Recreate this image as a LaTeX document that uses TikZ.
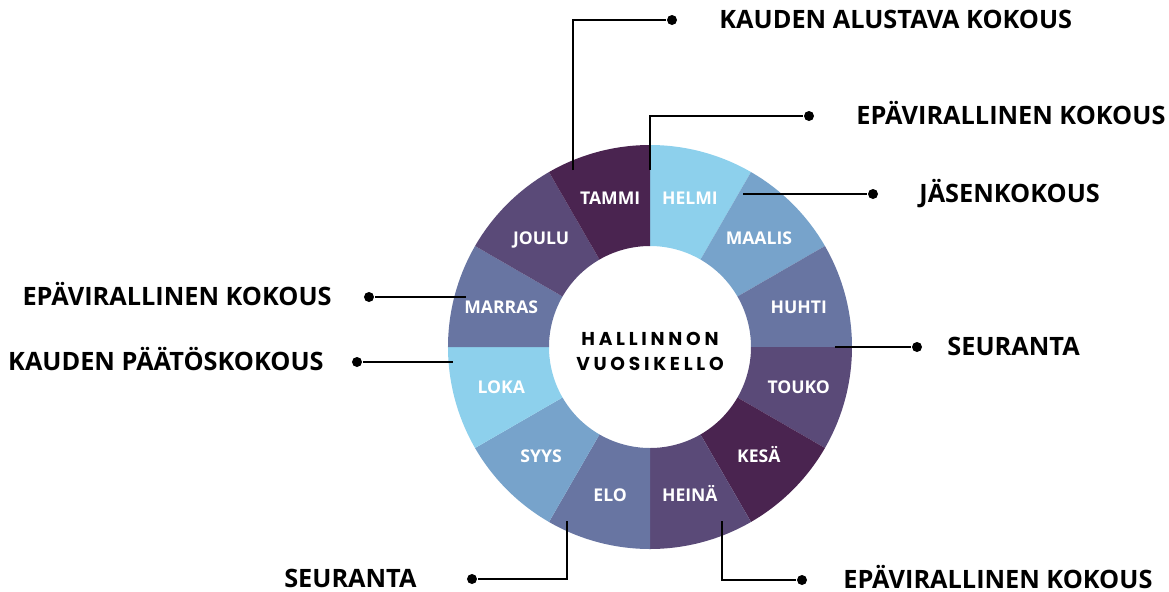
\documentclass[tikz,border=0pt]{standalone}
\usepackage{fontspec}
\setmainfont{Open Sans}
\newfontfamily\hubfont{Poppins}[LetterSpace=20]
\usetikzlibrary{positioning}

\definecolor{plum}{HTML}{4A2450}
\definecolor{sky}{HTML}{8DD0EC}
\definecolor{steel}{HTML}{77A3CB}
\definecolor{slate}{HTML}{6875A2}
\definecolor{dusk}{HTML}{5A4A78}

\tikzset{
  month/.style = {text=white, font=\bfseries\fontsize{5}{5}\selectfont,
                  text height=3.5pt, text depth=0pt},
  event/.style = {inner sep=0pt, font=\bfseries\fontsize{7.2}{8}\selectfont,
                  text height=5.1pt, text depth=0pt},
  dot/.style   = {circle, fill=black, inner sep=0pt, minimum size=1mm},
  link/.style  = {line width=0.7pt},
}

\begin{document}
\begin{tikzpicture}
  \useasboundingbox (-6.50,-2.44) rectangle (5.19,3.47);

  % the ring, one piece per month, clockwise from the top
  \foreach \name/\col [count=\i from 0] in {HELMI/sky, MAALIS/steel, HUHTI/slate,
      TOUKO/dusk, KESÄ/plum, HEINÄ/dusk, ELO/slate, SYYS/steel, LOKA/sky,
      MARRAS/slate, JOULU/dusk, TAMMI/plum} {
    \fill[\col] ({90-30*\i}:2.02) arc ({90-30*\i}:{60-30*\i}:2.02)
      -- ({60-30*\i}:1.01) arc ({60-30*\i}:{90-30*\i}:1.01) -- cycle;
    \node[month] at ({75-30*\i}:1.54) {\name};
  }
  \node[align=center, font=\hubfont\bfseries\fontsize{5.3}{7.1}\selectfont] (hub)
    at (0,-0.045) {HALLINNON\\VUOSIKELLO};

  % meetings
  \coordinate (s1) at (-0.77,1.77);
  \node[dot] (d1) at (0.22,3.27) {};
  \node[event, right=0.41 of d1] (e1) {KAUDEN ALUSTAVA KOKOUS};

  \coordinate (s2) at (0,1.77);
  \node[dot] (d2) at (1.59,2.31) {};
  \node[event, right=0.41 of d2] (e2) {EPÄVIRALLINEN KOKOUS};

  \coordinate (s3) at (0.93,1.53);
  \node[dot] (d3) at (2.23,1.53) {};
  \node[event, right=0.40 of d3] (e3) {JÄSENKOKOUS};

  \coordinate (s4) at (1.85,0);
  \node[dot] (d4) at (2.67,0) {};
  \node[event, right=0.24 of d4] (e4) {SEURANTA};

  \coordinate (s5) at (0.72,-1.74);
  \node[dot] (d5) at (1.52,-2.33) {};
  \node[event, right=0.35 of d5] (e5) {EPÄVIRALLINEN KOKOUS};

  \coordinate (s6) at (-0.83,-1.74);
  \node[dot] (d6) at (-1.78,-2.32) {};
  \node[event, left=0.49 of d6] (e6) {SEURANTA};

  \coordinate (s7) at (-1.84,0.50);
  \node[dot] (d7) at (-2.81,0.50) {};
  \node[event, left=0.31 of d7] (e7) {EPÄVIRALLINEN KOKOUS};

  \coordinate (s8) at (-1.97,-0.15);
  \node[dot] (d8) at (-2.93,-0.15) {};
  \node[event, left=0.27 of d8] (e8) {KAUDEN PÄÄTÖSKOKOUS};

  \draw[link] (s1) |- (d1);
  \draw[link] (s2) |- (d2);
  \draw[link] (s3) -- (d3);
  \draw[link] (s4) -- (d4);
  \draw[link] (s5) |- (d5);
  \draw[link] (s6) |- (d6);
  \draw[link] (s7) -- (d7);
  \draw[link] (s8) -- (d8);
\end{tikzpicture}
\end{document}
